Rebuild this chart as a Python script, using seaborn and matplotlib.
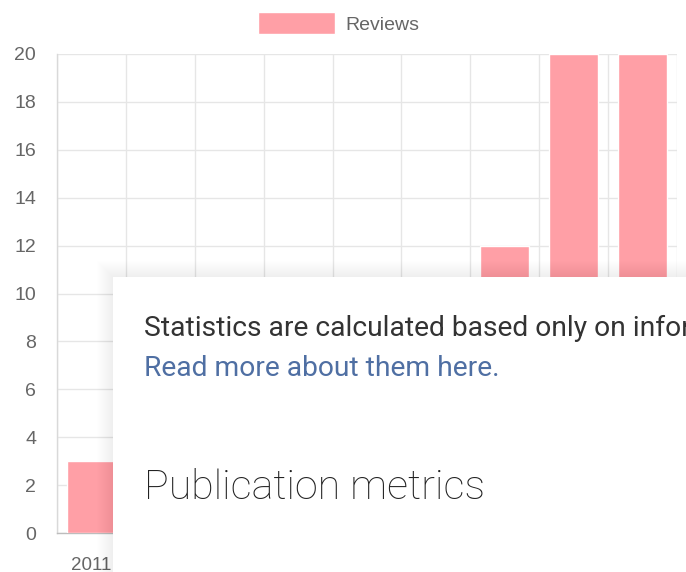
import numpy as np
import pandas as pd
import matplotlib
matplotlib.use("Agg")
import matplotlib.pyplot as plt
from matplotlib.patches import Rectangle
import seaborn as sns

# Review counts per year (2012-2016 are not reported)
years = ["2011", "2012", "2013", "2014", "2015", "2016", "2017", "2018", "2019"]
reviews = [3, np.nan, np.nan, np.nan, np.nan, np.nan, 12, 20, 20]
y_ticks = list(range(0, 21, 2))

panel_note = "Statistics are calculated based only on information"
panel_link = "Read more about them here."
panel_title = "Publication metrics"

W, H, DPI = 686, 572, 100
BAR = "#ff9fa6"
GRID = "#e6e6e6"
TEXT = "#666666"

sns.set_theme(style="white")
plt.rcParams["font.family"] = ["Liberation Sans", "DejaVu Sans"]

fig = plt.figure(figsize=(W / DPI, H / DPI), dpi=DPI)
fig.patch.set_facecolor("white")

def fx(px):
    return px / W

def fy(py):
    return 1 - py / H

# plot area in pixel bounds
L, R, T, B = 57, 677, 54, 533
ax = fig.add_axes([fx(L), fy(B), fx(R) - fx(L), fy(T) - fy(B)])

df = pd.DataFrame({"year": years, "reviews": reviews})
sns.barplot(data=df, x="year", y="reviews", color=BAR, saturation=1,
            width=0.71, ax=ax, label="Reviews", zorder=3)

ax.set_xlim(-0.5, len(years) - 0.5)
ax.set_ylim(0, 20)
ax.set_yticks(y_ticks)
ax.set_yticklabels([str(v) for v in y_ticks])
ax.set_xlabel("")
ax.set_ylabel("")

# category boundary lines (offset grid)
ax.set_xticks(np.arange(-0.5, len(years)), minor=True)
ax.grid(which="minor", axis="x", color=GRID, lw=1.0, zorder=0)
ax.grid(which="major", axis="y", color=GRID, lw=1.0, zorder=0)
ax.grid(which="major", axis="x", visible=False)

ax.tick_params(axis="y", which="major", length=12, width=1.0, color=GRID,
               pad=3, labelsize=14, labelcolor=TEXT)
ax.tick_params(axis="x", which="major", length=0, pad=17, labelsize=13.5,
               labelcolor=TEXT)
ax.tick_params(axis="x", which="minor", length=13, width=1.0, color=GRID)

for side in ("top", "right"):
    ax.spines[side].set_visible(False)
ax.spines["left"].set_color("#d9d9d9")
ax.spines["left"].set_linewidth(1.0)
ax.spines["bottom"].set_color("#bdbdbd")
ax.spines["bottom"].set_linewidth(1.0)

leg = ax.legend(loc="upper left", bbox_to_anchor=(fx(258), fy(12)),
                bbox_transform=fig.transFigure, frameon=False, fontsize=14,
                handlelength=3.97, handleheight=1.39, handletextpad=0.52,
                borderaxespad=0, borderpad=0)
for t in leg.get_texts():
    t.set_color(TEXT)

# overlay panel with a soft drop shadow
px0, py0 = 113, 277
for i in range(16, 0, -1):
    fig.add_artist(Rectangle((fx(px0 - i), -0.2), 1.5, fy(py0 - i) + 0.2,
                             transform=fig.transFigure, facecolor="black",
                             edgecolor="none", alpha=0.0055, zorder=9))
fig.add_artist(Rectangle((fx(px0), -0.2), 1.5, fy(py0) + 0.2,
                         transform=fig.transFigure, facecolor="white",
                         edgecolor="none", zorder=10))

fig.text(fx(144), fy(328), panel_note, family=["Roboto", "DejaVu Sans"],
         fontsize=20.3, color="#333333", va="center", ha="left", zorder=11)
fig.text(fx(144), fy(368), panel_link, family=["Roboto", "DejaVu Sans"],
         fontsize=20.3, color="#4f6fa3", va="center", ha="left", zorder=11)
fig.text(fx(144), fy(488), panel_title, family=["Roboto", "DejaVu Sans"],
         fontsize=29.7, fontweight="light", color="#222222", va="center",
         ha="left", zorder=11)

fig.savefig("out.png", dpi=DPI, facecolor="white")
